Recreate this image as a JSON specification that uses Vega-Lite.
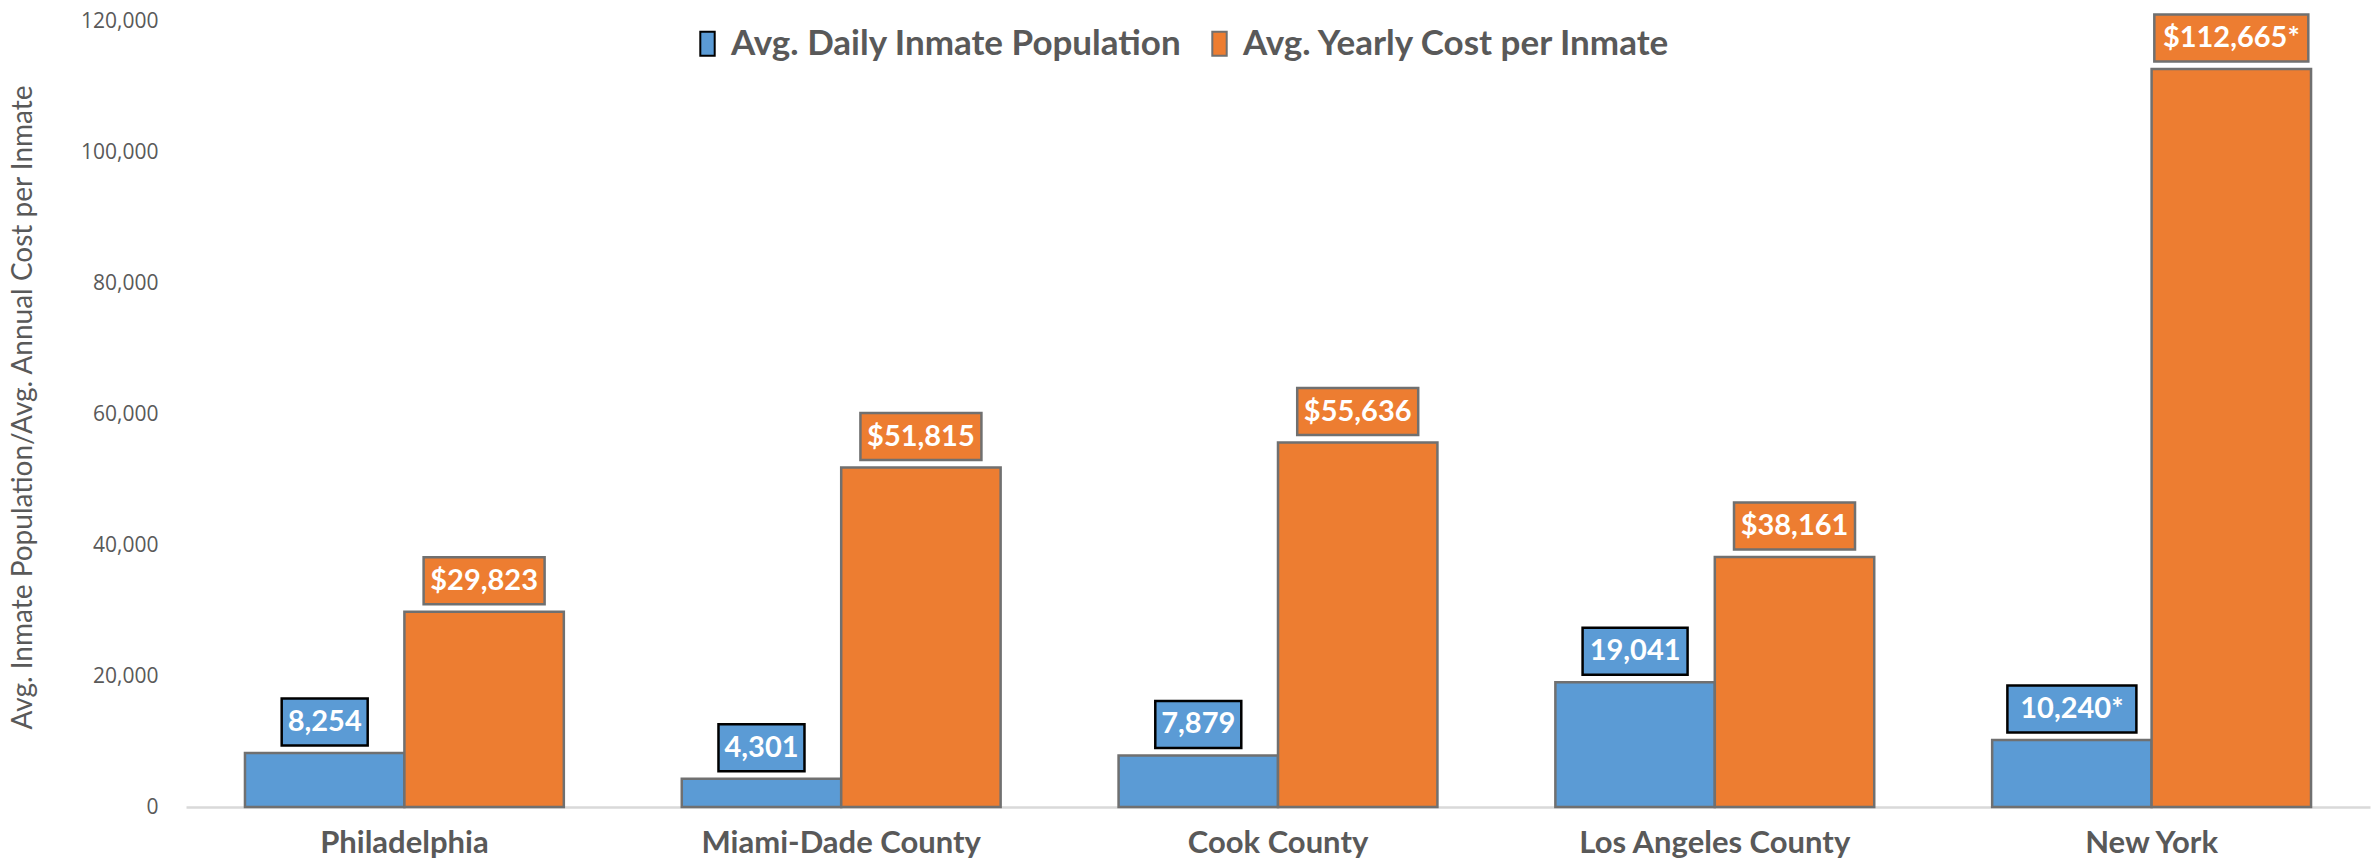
{
  "$schema": "https://vega.github.io/schema/vega-lite/v6.json",
  "width": 2184,
  "height": 786,
  "autosize": {"type": "none"},
  "padding": {"left": 186, "top": 21, "right": 9, "bottom": 58},
  "background": "white",
  "config": {"view": {"stroke": null}, "font": "Lato"},
  "data": {
    "values": [
      {"county": "Philadelphia", "series": "Avg. Daily Inmate Population", "value": 8254, "label": "8,254"},
      {"county": "Philadelphia", "series": "Avg. Yearly Cost per Inmate", "value": 29823, "label": "$29,823"},
      {"county": "Miami-Dade County", "series": "Avg. Daily Inmate Population", "value": 4301, "label": "4,301"},
      {"county": "Miami-Dade County", "series": "Avg. Yearly Cost per Inmate", "value": 51815, "label": "$51,815"},
      {"county": "Cook County", "series": "Avg. Daily Inmate Population", "value": 7879, "label": "7,879"},
      {"county": "Cook County", "series": "Avg. Yearly Cost per Inmate", "value": 55636, "label": "$55,636"},
      {"county": "Los Angeles County", "series": "Avg. Daily Inmate Population", "value": 19041, "label": "19,041"},
      {"county": "Los Angeles County", "series": "Avg. Yearly Cost per Inmate", "value": 38161, "label": "$38,161"},
      {"county": "New York", "series": "Avg. Daily Inmate Population", "value": 10240, "label": "10,240*"},
      {"county": "New York", "series": "Avg. Yearly Cost per Inmate", "value": 112665, "label": "$112,665*"}
    ]
  },
  "encoding": {
    "x": {
      "field": "county", "type": "nominal",
      "sort": ["Philadelphia", "Miami-Dade County", "Cook County", "Los Angeles County", "New York"],
      "scale": {"paddingInner": 0.27, "paddingOuter": 0.135},
      "axis": {"title": null, "domainColor": "#d9d9d9", "domainWidth": 2.5, "ticks": false, "labelAngle": 0, "labelFontSize": 31, "labelFont": "Lato", "labelFontWeight": "bold", "labelColor": "#595959", "labelPadding": 21, "labelLimit": 0}
    },
    "xOffset": {
      "field": "series", "type": "nominal",
      "sort": ["Avg. Daily Inmate Population", "Avg. Yearly Cost per Inmate"],
      "scale": {"paddingInner": 0, "paddingOuter": 0}
    },
    "y": {
      "field": "value", "type": "quantitative",
      "scale": {"domain": [0, 120000], "nice": false},
      "axis": {"title": "Avg. Inmate Population/Avg. Annual Cost per Inmate", "values": [0, 20000, 40000, 60000, 80000, 100000, 120000], "format": ",.0f", "grid": false, "domain": false, "ticks": false, "labelPadding": 28, "labelFontSize": 21, "labelFont": "Open Sans", "labelColor": "#595959", "titleFont": "Lato", "titleFontWeight": "normal", "titleFontSize": 28, "titleColor": "#595959", "titleX": -163, "titleY": 386, "titleAngle": -90, "titleAlign": "center", "titleBaseline": "middle", "titleLimit": 0}
    },
    "color": {
      "field": "series", "type": "nominal",
      "scale": {"domain": ["Avg. Daily Inmate Population", "Avg. Yearly Cost per Inmate"], "range": ["#5B9BD5", "#ED7D31"]},
      "legend": {"orient": "none", "legendX": 504, "legendY": 5, "direction": "horizontal", "title": null, "labelFontSize": 35, "labelFont": "Lato", "labelFontWeight": "bold", "labelColor": "#595959", "labelLimit": 0, "symbolType": "M-0.6,-1L0.6,-1L0.6,1L-0.6,1Z", "symbolSize": 576, "symbolStrokeColor": "#707070", "symbolStrokeWidth": 2, "symbolOpacity": 1, "columnPadding": 20, "labelOffset": 6}
    }
  },
  "layer": [
    {"mark": {"type": "bar", "stroke": "#707070", "strokeWidth": 2.5}},
    {
      "mark": {"type": "point", "filled": true, "opacity": 1, "yOffset": -31, "strokeWidth": 2.5, "size": 10000},
      "encoding": {
        "shape": {
          "field": "label", "type": "nominal",
          "scale": {
            "domain": ["8,254", "4,301", "7,879", "19,041", "10,240*", "$29,823", "$51,815", "$55,636", "$38,161", "$112,665*"],
            "range": [
              "M-0.86,-0.47L0.86,-0.47L0.86,0.47L-0.86,0.47Z",
              "M-0.86,-0.47L0.86,-0.47L0.86,0.47L-0.86,0.47Z",
              "M-0.86,-0.47L0.86,-0.47L0.86,0.47L-0.86,0.47Z",
              "M-1.05,-0.47L1.05,-0.47L1.05,0.47L-1.05,0.47Z",
              "M-1.29,-0.47L1.29,-0.47L1.29,0.47L-1.29,0.47Z",
              "M-1.21,-0.47L1.21,-0.47L1.21,0.47L-1.21,0.47Z",
              "M-1.21,-0.47L1.21,-0.47L1.21,0.47L-1.21,0.47Z",
              "M-1.21,-0.47L1.21,-0.47L1.21,0.47L-1.21,0.47Z",
              "M-1.21,-0.47L1.21,-0.47L1.21,0.47L-1.21,0.47Z",
              "M-1.54,-0.47L1.54,-0.47L1.54,0.47L-1.54,0.47Z"
            ]
          },
          "legend": null
        },
        "stroke": {
          "field": "series", "type": "nominal",
          "scale": {"domain": ["Avg. Daily Inmate Population", "Avg. Yearly Cost per Inmate"], "range": ["#000000", "#707070"]},
          "legend": null
        }
      }
    },
    {
      "mark": {"type": "text", "dy": -31, "fontWeight": "bold", "fontSize": 29, "font": "Lato", "baseline": "middle", "align": "center"},
      "encoding": {"text": {"field": "label"}, "color": {"value": "white"}}
    }
  ]
}
